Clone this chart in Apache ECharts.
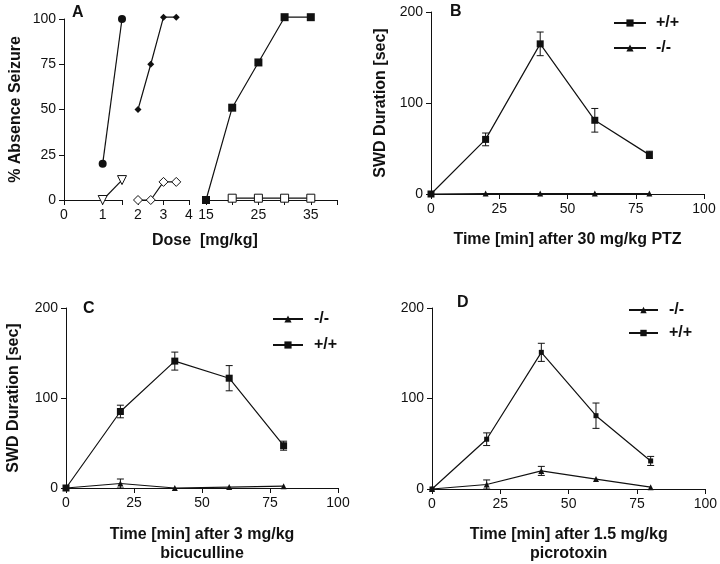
<!DOCTYPE html>
<html>
<head>
<meta charset="utf-8">
<script src="https://cdn.jsdelivr.net/npm/echarts@6/dist/echarts.min.js"></script>
<style>
  html, body { margin: 0; padding: 0; background: #fff; }
  #chart { width: 720px; height: 564px; }
</style>
</head>
<body>
<div id="chart"></div>
<script>
(function() {
  'use strict';

  // === Panel A: dose-response, three broken x segments ===
  var aCircleX = [1, 1.5];
  var aCircleY = [20, 100];
  var aOpenTriX = [1, 1.5];
  var aOpenTriY = [0, 11];
  var aDiamondX = [2, 2.5, 3, 3.5];
  var aDiamondY = [50, 75, 101, 101];
  var aOpenDiamondY = [0, 0, 10, 10];
  var aSquareX = [15, 20, 25, 30, 35];
  var aSquareY = [0, 51, 76, 101, 101];
  var aOpenSquareX = [20, 25, 30, 35];
  var aOpenSquareY = [1, 1, 1, 1];

  // tick labels shown on each A segment
  var aSeg1Labels = [0, 1];
  var aSeg2Labels = [2, 3, 4];
  var aSeg3Labels = [15, 25, 35];

  // === Panels B-D: time course ===
  var timePoints = [0, 20, 40, 60, 80];

  var bWildY = [0, 60, 165, 81, 43];
  var bWildErr = [0, 7, 13, 13, 4];
  var bKoY = [0, 0.5, 0.5, 0.5, 0.5];
  var bKoErr = [0, 0, 0, 0, 0];

  var cWildY = [0, 85, 141, 122, 47];
  var cWildErr = [0, 7, 10, 14, 5];
  var cKoY = [0, 5, 0, 1, 2];
  var cKoErr = [0, 5, 0, 0, 0];

  var dWildY = [0, 55, 151, 81, 31];
  var dWildErr = [0, 7, 10, 14, 5];
  var dKoY = [0, 5, 20, 11, 2];
  var dKoErr = [0, 5, 5, 0, 0];

  var FONT = '"Liberation Sans", Arial, sans-serif';
  var INK = '#111';

  function zip(xs, ys) {
    return xs.map(function(x, i) { return [x, ys[i]]; });
  }
  function zip3(xs, ys, es) {
    return xs.map(function(x, i) { return [x, ys[i], es[i]]; });
  }

  // --- Error bars drawn through the axis scales ---
  function renderErr(params, api) {
    var x = api.value(0), y = api.value(1), e = api.value(2);
    if (!e) return null;
    var top = api.coord([x, y + e]);
    var bot = api.coord([x, y - e]);
    var w = 3.5;
    var st = { stroke: INK, lineWidth: 1 };
    return {
      type: 'group',
      children: [
        { type: 'line', shape: { x1: top[0], y1: top[1], x2: bot[0], y2: bot[1] }, style: st },
        { type: 'line', shape: { x1: top[0] - w, y1: top[1], x2: top[0] + w, y2: top[1] }, style: st },
        { type: 'line', shape: { x1: bot[0] - w, y1: bot[1], x2: bot[0] + w, y2: bot[1] }, style: st }
      ]
    };
  }

  function axisLine() {
    return { show: true, onZero: false, lineStyle: { color: INK, width: 1 } };
  }
  function axisTick() {
    return { show: true, length: 5, lineStyle: { color: INK, width: 1 } };
  }
  function tickLabel(keep) {
    var l = { color: INK, fontFamily: FONT, fontSize: 14, margin: 8 };
    if (keep) {
      l.formatter = function(v) { return keep.indexOf(v) >= 0 ? String(v) : ''; };
    }
    return l;
  }
  var titleText = { color: INK, fontFamily: FONT, fontSize: 16, fontWeight: 'bold' };

  function valueX(grid, min, max, interval, keep, extra) {
    var ax = {
      type: 'value', gridIndex: grid, min: min, max: max, interval: interval,
      axisLine: axisLine(), axisTick: axisTick(), splitLine: { show: false },
      axisLabel: tickLabel(keep)
    };
    return Object.assign(ax, extra || {});
  }

  function valueY(grid, max, interval, extra) {
    var ax = {
      type: 'value', gridIndex: grid, min: 0, max: max, interval: interval,
      axisLine: axisLine(), axisTick: axisTick(), splitLine: { show: false },
      axisLabel: tickLabel()
    };
    return Object.assign(ax, extra || {});
  }

  function line(name, xi, yi, data, symbol, size, extra) {
    var s = {
      name: name, type: 'line', xAxisIndex: xi, yAxisIndex: yi, data: data,
      symbol: symbol, symbolSize: size, z: 5, clip: false,
      lineStyle: { color: INK, width: 1.2 },
      itemStyle: { color: INK }
    };
    return Object.assign(s, extra || {});
  }

  function errors(xi, yi, data) {
    return {
      type: 'custom', xAxisIndex: xi, yAxisIndex: yi, data: data,
      renderItem: renderErr, z: 4, silent: true
    };
  }

  var openStyle = { color: '#fff', borderColor: INK, borderWidth: 1 };

  function legendName(name) { return name.split(':')[1]; }

  function legend(left, top, names, itemW, itemH, gap, textPad) {
    return {
      orient: 'vertical', left: left, top: top, data: names, padding: 0,
      itemWidth: itemW, itemHeight: itemH, itemGap: gap,
      formatter: legendName, selectedMode: false,
      textStyle: { color: INK, fontFamily: FONT, fontSize: 16, fontWeight: 'bold', padding: [0, 0, 0, textPad] }
    };
  }

  var option = {
    animation: false,
    backgroundColor: '#fff',
    title: [
      { text: 'A', left: 72, top: 5, textStyle: titleText, padding: 0 },
      { text: 'B', left: 450, top: 4, textStyle: titleText, padding: 0 },
      { text: 'C', left: 83, top: 301, textStyle: titleText, padding: 0 },
      { text: 'D', left: 457, top: 295, textStyle: titleText, padding: 0 }
    ],
    legend: [
      legend(613, 15, ['B:+/+', 'B:-/-'], 32, 9, 9, 5),
      legend(272, 311, ['C:-/-', 'C:+/+'], 30, 9, 10, 6),
      legend(628, 302, ['D:-/-', 'D:+/+'], 29, 8, 7, 6)
    ],
    grid: [
      { left: 64, top: 19, width: 58, height: 181 },
      { left: 138, top: 19, width: 51, height: 181 },
      { left: 206, top: 19, width: 131, height: 181 },
      { left: 431, top: 12, width: 273, height: 182 },
      { left: 66, top: 308, width: 272, height: 181 },
      { left: 432, top: 308, width: 275, height: 182 }
    ],
    xAxis: [
      valueX(0, 0, 1.5, 1, aSeg1Labels),
      valueX(1, 2, 4, 1, aSeg2Labels),
      valueX(2, 15, 40, 5, aSeg3Labels),
      valueX(3, 0, 100, 25, null, {
        name: 'Time [min] after 30 mg/kg PTZ', nameLocation: 'middle', nameGap: 38,
        nameTextStyle: titleText
      }),
      valueX(4, 0, 100, 25, null, {
        name: 'Time [min] after 3 mg/kg\nbicuculline', nameLocation: 'middle', nameGap: 37,
        nameTextStyle: Object.assign({ lineHeight: 19, verticalAlign: 'top' }, titleText)
      }),
      valueX(5, 0, 100, 25, null, {
        name: 'Time [min] after 1.5 mg/kg\npicrotoxin', nameLocation: 'middle', nameGap: 36,
        nameTextStyle: Object.assign({ lineHeight: 19, verticalAlign: 'top' }, titleText)
      })
    ],
    yAxis: [
      valueY(0, 100, 25, {
        name: '% Absence Seizure', nameLocation: 'middle', nameGap: 40,
        nameTextStyle: titleText
      }),
      valueY(1, 100, 25, { show: false }),
      valueY(2, 100, 25, { show: false }),
      valueY(3, 200, 100, {
        name: 'SWD Duration [sec]', nameLocation: 'middle', nameGap: 42,
        nameTextStyle: titleText
      }),
      valueY(4, 200, 100, {
        name: 'SWD Duration [sec]', nameLocation: 'middle', nameGap: 44,
        nameTextStyle: titleText
      }),
      valueY(5, 200, 100)
    ],
    graphic: [
      {
        type: 'text', left: 152, top: 233,
        style: { text: 'Dose  [mg/kg]', fill: INK, font: 'bold 16px ' + FONT }
      }
    ],
    series: [
      // Panel A
      line('A:circle', 0, 0, zip(aCircleX, aCircleY), 'circle', 8),
      line('A:opentri', 0, 0, zip(aOpenTriX, aOpenTriY), 'triangle', 9,
        { symbolRotate: 180, itemStyle: openStyle }),
      line('A:diamond', 1, 1, zip(aDiamondX, aDiamondY), 'diamond', 7),
      line('A:opendia', 1, 1, zip(aDiamondX, aOpenDiamondY), 'diamond', 9,
        { itemStyle: openStyle }),
      line('A:square', 2, 2, zip(aSquareX, aSquareY), 'rect', 8),
      line('A:opensq', 2, 2, zip(aOpenSquareX, aOpenSquareY), 'rect', 8,
        { itemStyle: openStyle }),

      // Panel B
      errors(3, 3, zip3(timePoints, bWildY, bWildErr)),
      line('B:+/+', 3, 3, zip(timePoints, bWildY), 'rect', 7),
      line('B:-/-', 3, 3, zip(timePoints, bKoY), 'triangle', 6),

      // Panel C
      errors(4, 4, zip3(timePoints, cWildY, cWildErr)),
      errors(4, 4, zip3(timePoints, cKoY, cKoErr)),
      line('C:-/-', 4, 4, zip(timePoints, cKoY), 'triangle', 6),
      line('C:+/+', 4, 4, zip(timePoints, cWildY), 'rect', 7),

      // Panel D
      errors(5, 5, zip3(timePoints, dWildY, dWildErr)),
      errors(5, 5, zip3(timePoints, dKoY, dKoErr)),
      line('D:-/-', 5, 5, zip(timePoints, dKoY), 'triangle', 6),
      line('D:+/+', 5, 5, zip(timePoints, dWildY), 'rect', 5)
    ]
  };

  var chart = echarts.init(document.getElementById('chart'), null, { renderer: 'canvas' });
  chart.setOption(option);
})();
</script>
</body>
</html>
